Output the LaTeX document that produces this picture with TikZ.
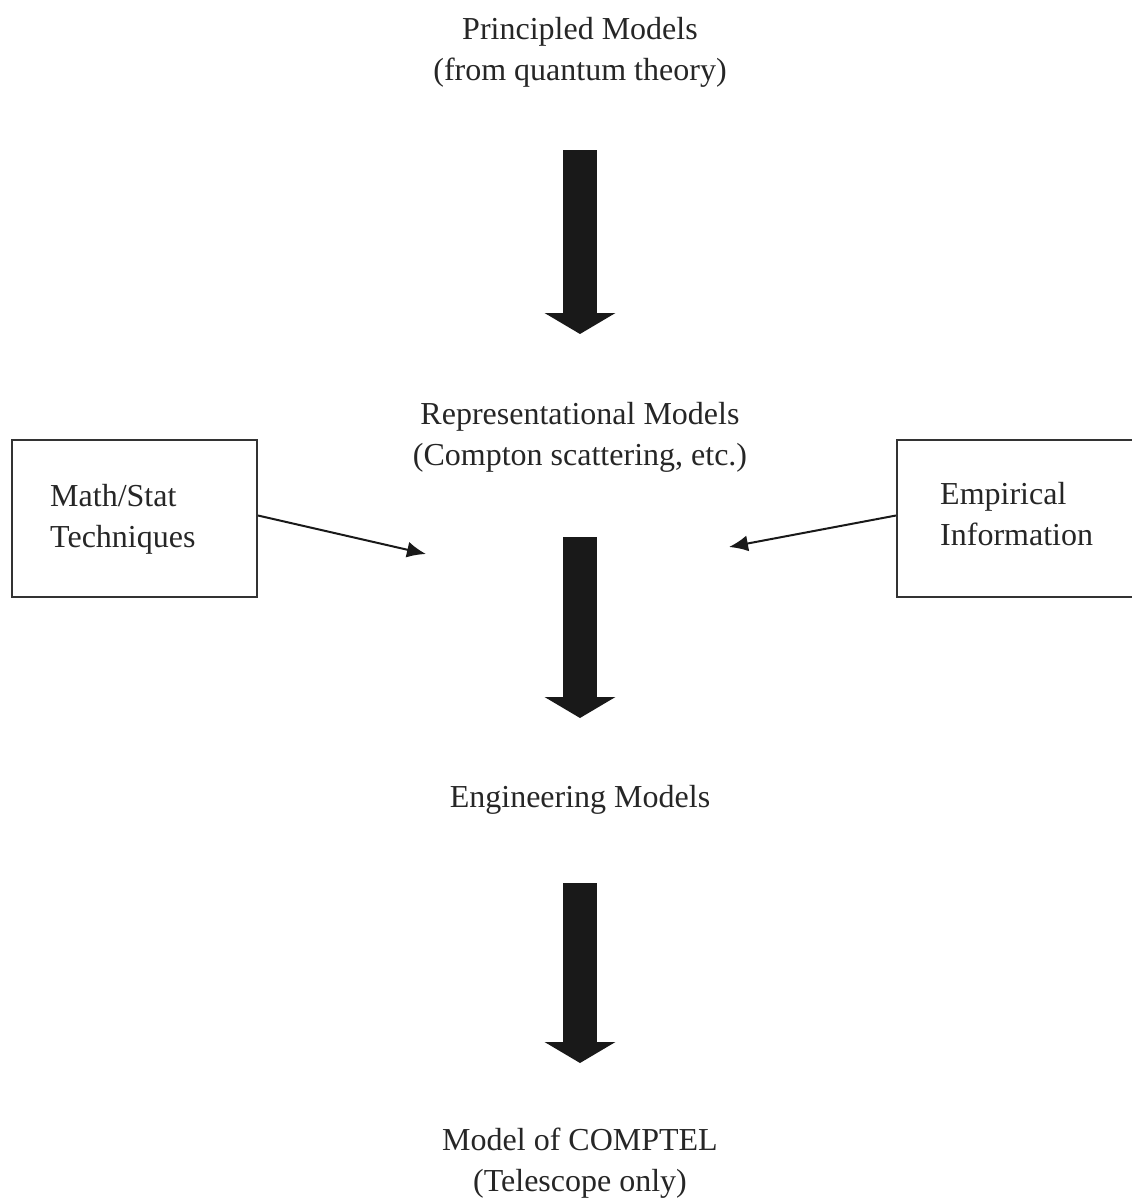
\documentclass[tikz,border=0pt]{standalone}
\usepackage{fontspec}
\setmainfont{Liberation Serif}
\usetikzlibrary{arrows.meta}
\tikzset{
  label text/.style={align=center, inner sep=0pt, text=black!85,
    font=\fontsize{32}{41}\selectfont},
  side box/.style={draw=black!80, line width=2pt,
    minimum height=157pt, inner sep=0pt},
  side text/.style={align=left, inner sep=0pt, text=black!85,
    font=\fontsize{32}{41}\selectfont},
  flow arrow/.style={line width=34pt, black!90,
    -{Triangle[length=21pt,width=70pt]}},
  feed arrow/.style={line width=2pt, black!90,
    -{Latex[length=19pt,width=16pt]}}
}
\begin{document}
\begin{tikzpicture}[x=1pt,y=-1pt]
  \useasboundingbox (0,0) rectangle (1132,1203);

  % model levels
  \node[label text] (princ) at (580,52) {Principled Models\\(from quantum theory)};
  \node[label text] (rep) at (580,437) {Representational Models\\(Compton scattering, etc.)};
  \node[label text] (eng) at (580,800) {Engineering Models};
  \node[label text] (comptel) at (580,1163) {Model of COMPTEL\\(Telescope only)};

  % side inputs
  \node[side box, minimum width=245pt] (mathbox) at (134.5,518.5) {};
  \node[side text, anchor=west] (mathtxt) at (50,519) {Math/Stat\\Techniques};
  \node[side box, minimum width=236pt] (empbox) at (1015,518.5) {};
  \node[side text, anchor=west] (emptxt) at (940,514) {Empirical\\Information};

  % big downward arrows between levels
  \coordinate (a1s) at (580,150);
  \coordinate (a1e) at (580,334);
  \coordinate (a2s) at (580,537);
  \coordinate (a2e) at (580,718);
  \coordinate (a3s) at (580,883);
  \coordinate (a3e) at (580,1063);
  \draw[flow arrow] (a1s) -- (a1e);
  \draw[flow arrow] (a2s) -- (a2e);
  \draw[flow arrow] (a3s) -- (a3e);

  % inputs feeding the representational level
  \coordinate (mathtip) at (426,554);
  \coordinate (emptip) at (729,547);
  \draw[feed arrow] ([yshift=3pt]mathbox.east) -- (mathtip);
  \draw[feed arrow] ([yshift=3pt]empbox.west) -- (emptip);
\end{tikzpicture}
\end{document}
